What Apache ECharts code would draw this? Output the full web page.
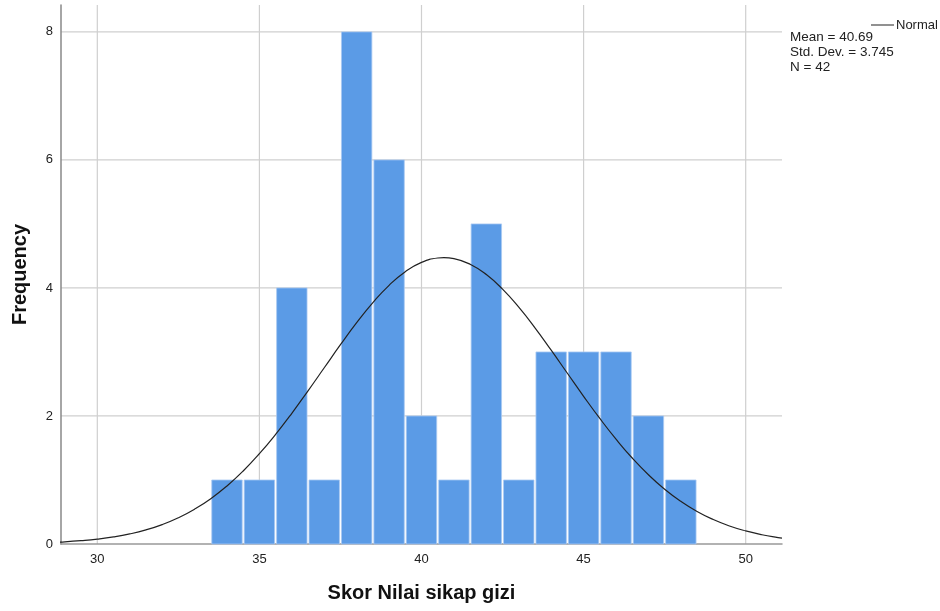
<!DOCTYPE html>
<html>
<head>
<meta charset="utf-8">
<script src="https://cdn.jsdelivr.net/npm/echarts@6/dist/echarts.min.js"></script>
<style>
html,body{margin:0;padding:0;background:#fff;}
#chart{width:940px;height:611px;}
</style>
</head>
<body>
<div id="chart"></div>
<script>
// Histogram bins (bin centers) and frequencies
var binCenters = [34, 35, 36, 37, 38, 39, 40, 41, 42, 43, 44, 45, 46, 47, 48];
var frequencies = [1, 1, 4, 1, 8, 6, 2, 1, 5, 1, 3, 3, 3, 2, 1];
// Fitted normal curve (Mean = 40.69, Std. Dev. = 3.745, N = 42), values read/estimated
var curveX = [28.5, 29, 29.5, 30, 30.5, 31, 31.5, 32, 32.5, 33, 33.5, 34, 34.5, 35, 35.5, 36, 36.5, 37, 37.5, 38, 38.5, 39, 39.5, 40, 40.5, 40.69, 41, 41.5, 42, 42.5, 43, 43.5, 44, 44.5, 45, 45.5, 46, 46.5, 47, 47.5, 48, 48.5, 49, 49.5, 50, 50.5, 51, 51.12];
var curveY = [0.022, 0.034, 0.052, 0.076, 0.110, 0.157, 0.220, 0.303, 0.410, 0.544, 0.708, 0.907, 1.141, 1.411, 1.713, 2.042, 2.393, 2.753, 3.113, 3.457, 3.771, 4.041, 4.254, 4.399, 4.468, 4.474, 4.459, 4.371, 4.209, 3.981, 3.699, 3.377, 3.028, 2.667, 2.307, 1.961, 1.638, 1.343, 1.082, 0.856, 0.666, 0.508, 0.382, 0.281, 0.204, 0.145, 0.101, 0.093];
var xTicks = [30, 35, 40, 45, 50];
var yTicks = [0, 2, 4, 6, 8];
var statsLines = ['Mean = 40.69', 'Std. Dev. = 3.745', 'N = 42'];

var histData = binCenters.map(function (c, i) { return [c, frequencies[i]]; });
var curveData = curveX.map(function (x, i) { return [x, curveY[i]]; });

var chart = echarts.init(document.getElementById('chart'));
var font = '"Liberation Sans", Arial, sans-serif';
chart.setOption({
  animation: false,
  backgroundColor: '#ffffff',
  textStyle: { fontFamily: font },
  grid: { left: 61, right: 158, top: 5, bottom: 67, containLabel: false },
  title: {
    text: statsLines.join('\n'),
    left: 790, top: 30, padding: 0,
    textStyle: { fontSize: 13.5, fontWeight: 'normal', color: '#222', lineHeight: 15, fontFamily: font }
  },
  legend: {
    data: ['Normal'],
    left: 871, top: 18.5, padding: 0,
    itemWidth: 23, itemHeight: 1, itemGap: 4,
    icon: 'rect',
    textStyle: { fontSize: 13, color: '#222', fontFamily: font, padding: [0, 0, 0, -3] }
  },
  xAxis: {
    type: 'value',
    min: 28.88, max: 51.12,
    interval: 5,
    name: 'Skor Nilai sikap gizi',
    nameLocation: 'middle',
    nameGap: 39,
    nameTextStyle: { fontSize: 20, fontWeight: 'bold', color: '#111', fontFamily: font },
    axisLine: { show: true, lineStyle: { color: '#999', width: 1.5 } },
    axisTick: { show: false },
    axisLabel: {
      fontSize: 13, color: '#222', margin: 9,
      customValues: xTicks,
      formatter: function (v) { return String(v); }
    },
    splitLine: { show: false }
  },
  yAxis: {
    type: 'value',
    min: 0, max: 8.42,
    name: 'Frequency',
    nameLocation: 'middle',
    nameGap: 31,
    nameTextStyle: { fontSize: 20, fontWeight: 'bold', color: '#111', fontFamily: font },
    axisLine: { show: true, lineStyle: { color: '#888', width: 1.5 } },
    axisTick: { show: false },
    axisLabel: {
      fontSize: 13, color: '#222', margin: 8,
      customValues: yTicks
    },
    splitLine: { show: false }
  },
  series: [
    {
      // vertical gridlines
      type: 'custom',
      silent: true,
      z: 0,
      data: xTicks.map(function (t) { return [t]; }),
      renderItem: function (params, api) {
        var p0 = api.coord([api.value(0), 0]);
        var p1 = api.coord([api.value(0), 8.42]);
        return { type: 'line', shape: { x1: p0[0], y1: p0[1], x2: p1[0], y2: p1[1] }, style: { stroke: '#cfcfcf', lineWidth: 1.2 } };
      }
    },
    {
      // horizontal gridlines
      type: 'custom',
      silent: true,
      z: 0,
      data: yTicks.slice(1).map(function (t) { return [t]; }),
      renderItem: function (params, api) {
        var p0 = api.coord([28.88, api.value(0)]);
        var p1 = api.coord([51.12, api.value(0)]);
        return { type: 'line', shape: { x1: p0[0], y1: p0[1], x2: p1[0], y2: p1[1] }, style: { stroke: '#cfcfcf', lineWidth: 1.2 } };
      }
    },
    {
      name: 'Histogram',
      type: 'custom',
      z: 2,
      data: histData,
      renderItem: function (params, api) {
        var c = api.value(0), f = api.value(1);
        var pL = api.coord([c - 0.5, f]);
        var pR = api.coord([c + 0.5, 0]);
        return {
          type: 'rect',
          shape: { x: pL[0] + 1, y: pL[1], width: pR[0] - pL[0] - 2, height: pR[1] - pL[1] },
          style: { fill: '#5b9be6', stroke: '#a9c9f2', lineWidth: 0.8 }
        };
      }
    },
    {
      name: 'Normal',
      type: 'line',
      z: 3,
      data: curveData,
      smooth: true,
      showSymbol: false,
      clip: true,
      lineStyle: { color: '#222', width: 1.2 },
      itemStyle: { color: '#222' }
    }
  ]
});
</script>
</body>
</html>
